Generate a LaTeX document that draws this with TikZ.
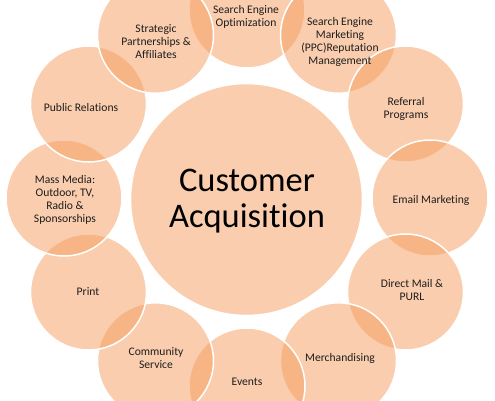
\documentclass[tikz,border=0pt]{standalone}
\usepackage{fontspec}
\setmainfont[Ligatures=NoCommon]{Carlito}
\definecolor{peach}{RGB}{244,155,92}
\definecolor{txt}{RGB}{30,30,30}
\begin{document}
\begin{tikzpicture}[x=1pt,y=-1pt,
  petal/.style={circle, minimum size=116pt, inner sep=0pt, fill=peach, fill opacity=0.5, draw=white, line width=1.5pt},
  hub/.style={circle, minimum size=232pt, inner sep=0pt, fill=peach, fill opacity=0.5, draw=white, line width=1.5pt},
  lbl/.style={align=center, font=\fontsize{11.6}{13}\selectfont, text=txt, inner sep=0pt},
  biglbl/.style={align=center, font=\fontsize{34.5}{36.5}\selectfont, text=black, inner sep=0pt}]
\useasboundingbox (0,0) rectangle (495,400);
\node[hub] (hubc) at (246.5,199.5) {};
\node[petal] (c1) at (247,10) {};
\node[petal] (c2) at (338.5,35.2) {};
\node[petal] (c3) at (405.5,104) {};
\node[petal] (c4) at (430,198) {};
\node[petal] (c5) at (405.5,292) {};
\node[petal] (c6) at (338.5,360.8) {};
\node[petal] (c7) at (247,386) {};
\node[petal] (c8) at (155.5,360.8) {};
\node[petal] (c9) at (88.5,292) {};
\node[petal] (c10) at (64,198) {};
\node[petal] (c11) at (88.5,104) {};
\node[petal] (c12) at (155.5,35.2) {};
\node[biglbl] (t0) at (247,201) {Customer\\Acquisition};
\node[lbl] (t1) at (246,17) {Search Engine\\Optimization};
\node[lbl] (t2) at (340,42) {Search Engine\\Marketing\\(PPC)Reputation\\Management};
\node[lbl] (t3) at (406,109) {Referral\\Programs};
\node[lbl] (t4) at (431,200) {Email Marketing};
\node[lbl] (t5) at (412,290) {Direct Mail \&\\PURL};
\node[lbl] (t6) at (340,358) {Merchandising};
\node[lbl] (t7) at (247,382) {Events};
\node[lbl] (t8) at (156,358) {Community\\Service};
\node[lbl] (t9) at (88,292) {Print};
\node[lbl] (t10) at (65,200) {Mass Media:\\Outdoor, TV,\\Radio \&\\Sponsorships};
\node[lbl] (t11) at (81,108) {Public Relations};
\node[lbl] (t12) at (156,42) {Strategic\\Partnerships \&\\Affiliates};
\end{tikzpicture}
\end{document}
